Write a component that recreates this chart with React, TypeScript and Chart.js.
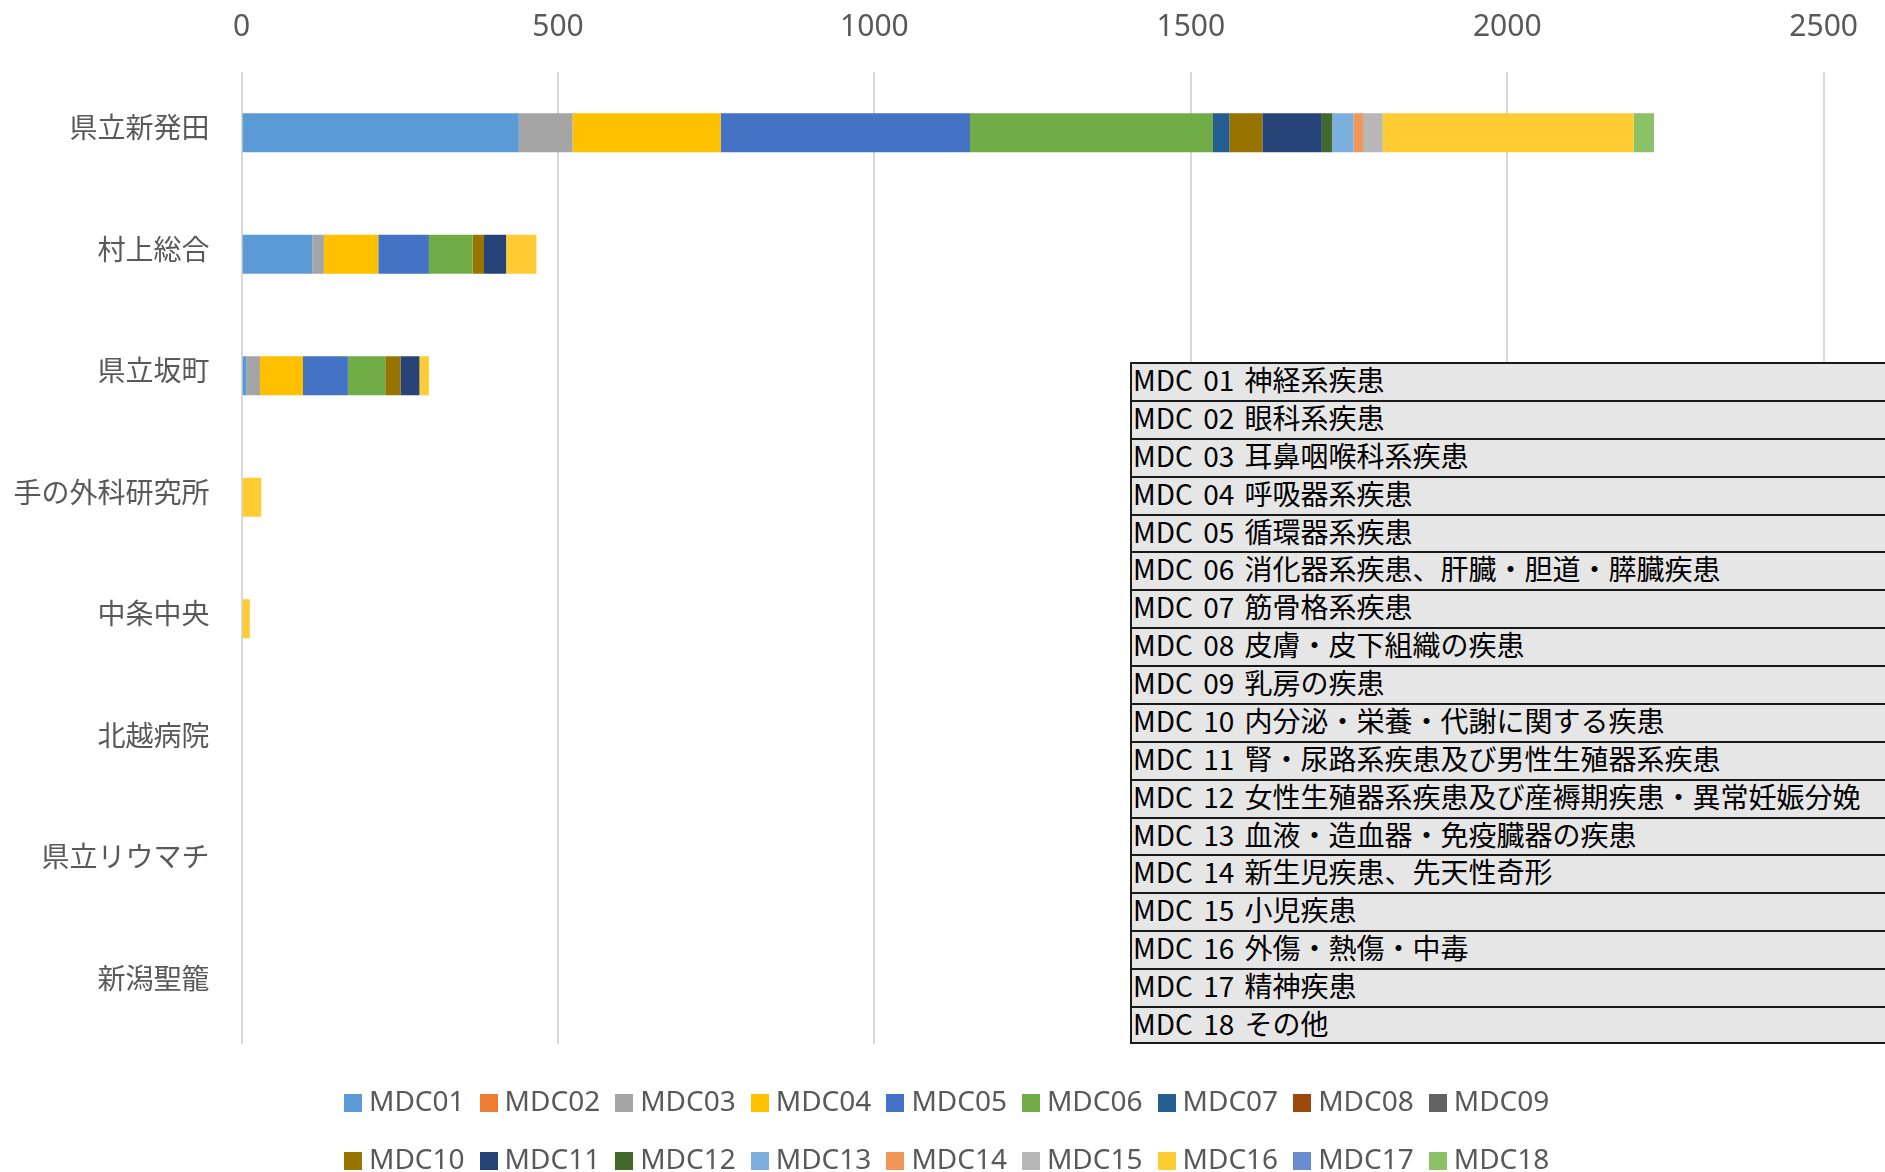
import React, { useEffect, useRef } from "react";
import { Chart, registerables } from "chart.js";

Chart.register(...registerables);

const categories = ["県立新発田", "村上総合", "県立坂町", "手の外科研究所", "中条中央", "北越病院", "県立リウマチ", "新潟聖籠"];

const seriesNames = ["MDC01", "MDC02", "MDC03", "MDC04", "MDC05", "MDC06", "MDC07", "MDC08", "MDC09", "MDC10", "MDC11", "MDC12", "MDC13", "MDC14", "MDC15", "MDC16", "MDC17", "MDC18"];

const seriesColors = ["#5B9BD5", "#ED7D31", "#A5A5A5", "#FFC000", "#4472C4", "#70AD47", "#255E91", "#9E480E", "#636363", "#997300", "#264478", "#43682B", "#7CAFDD", "#F1975A", "#B7B7B7", "#FFCD33", "#698ED0", "#8CC168"];

const mdc01 = [438, 112, 8, 0, 0, 0, 0, 0];
const mdc02 = [0, 0, 0, 0, 0, 0, 0, 0];
const mdc03 = [85, 18, 21, 0, 0, 0, 0, 0];
const mdc04 = [234, 86, 68, 0, 0, 0, 0, 0];
const mdc05 = [394, 80, 71, 0, 0, 0, 0, 0];
const mdc06 = [384, 69, 59, 0, 0, 0, 0, 0];
const mdc07 = [26, 0, 0, 0, 0, 0, 0, 0];
const mdc08 = [0, 0, 0, 0, 0, 0, 0, 0];
const mdc09 = [0, 0, 0, 0, 0, 0, 0, 0];
const mdc10 = [52, 18, 24, 0, 0, 0, 0, 0];
const mdc11 = [94, 35, 30, 0, 0, 0, 0, 0];
const mdc12 = [16, 0, 0, 0, 0, 0, 0, 0];
const mdc13 = [34, 0, 0, 0, 0, 0, 0, 0];
const mdc14 = [15, 0, 0, 0, 0, 0, 0, 0];
const mdc15 = [31, 0, 0, 0, 0, 0, 0, 0];
const mdc16 = [397, 48, 15, 31, 13, 0, 0, 0];
const mdc17 = [0, 0, 0, 0, 0, 0, 0, 0];
const mdc18 = [32, 0, 0, 0, 0, 0, 0, 0];

const seriesValues = [mdc01, mdc02, mdc03, mdc04, mdc05, mdc06, mdc07, mdc08, mdc09, mdc10, mdc11, mdc12, mdc13, mdc14, mdc15, mdc16, mdc17, mdc18];

const xTicks = [0, 500, 1000, 1500, 2000, 2500];

const mdcDescriptions = [
  "MDC 01 神経系疾患",
  "MDC 02 眼科系疾患",
  "MDC 03 耳鼻咽喉科系疾患",
  "MDC 04 呼吸器系疾患",
  "MDC 05 循環器系疾患",
  "MDC 06 消化器系疾患、肝臓・胆道・膵臓疾患",
  "MDC 07 筋骨格系疾患",
  "MDC 08 皮膚・皮下組織の疾患",
  "MDC 09 乳房の疾患",
  "MDC 10 内分泌・栄養・代謝に関する疾患",
  "MDC 11 腎・尿路系疾患及び男性生殖器系疾患",
  "MDC 12 女性生殖器系疾患及び産褥期疾患・異常妊娠分娩",
  "MDC 13 血液・造血器・免疫臓器の疾患",
  "MDC 14 新生児疾患、先天性奇形",
  "MDC 15 小児疾患",
  "MDC 16 外傷・熱傷・中毒",
  "MDC 17 精神疾患",
  "MDC 18 その他",
];

const W = 1885;
const H = 1172;
const AREA_LEFT = 241.6;
const AREA_TOP = 72;
const AREA_BOTTOM = 1044;
const RIGHT_PAD = 53;

export default function App() {
  const canvasRef = useRef<HTMLCanvasElement | null>(null);

  useEffect(() => {
    const canvas = canvasRef.current;
    if (!canvas) return;
    const chart = new Chart(canvas, {
      type: "bar",
      data: {
        labels: categories,
        datasets: seriesNames.map((name, i) => ({
          label: name,
          data: seriesValues[i],
          backgroundColor: seriesColors[i],
          borderWidth: 0,
          barPercentage: 0.32,
          categoryPercentage: 1,
        })),
      },
      options: {
        indexAxis: "y",
        responsive: false,
        animation: false,
        devicePixelRatio: 1,
        layout: { padding: { left: 0, top: 0, right: RIGHT_PAD, bottom: H - AREA_BOTTOM } },
        plugins: { legend: { display: false }, tooltip: { enabled: false } },
        scales: {
          x: {
            position: "top",
            stacked: true,
            min: 0,
            max: 2500,
            afterBuildTicks: (scale: any) => {
              scale.ticks = xTicks.map((v) => ({ value: v }));
            },
            afterFit: (scale: any) => {
              scale.height = AREA_TOP;
            },
            grid: { color: "#d9d9d9", lineWidth: 2, drawTicks: false },
            border: { display: false },
            ticks: {
              padding: 27,
              color: "#595959",
              callback: (v: any) => String(v),
              font: { family: "'Noto Sans', 'Noto Sans CJK JP', sans-serif", size: 30 },
            },
          },
          y: {
            stacked: true,
            afterFit: (scale: any) => {
              scale.width = AREA_LEFT;
            },
            grid: { display: false, drawTicks: false },
            border: { display: false },
            ticks: {
              padding: 32,
              labelOffset: -5,
              color: "#595959",
              font: { family: "'Noto Sans CJK JP', sans-serif", size: 28 },
            },
          },
        },
      },
    } as any);
    return () => chart.destroy();
  }, []);

  const rowH = (AREA_BOTTOM - 362) / mdcDescriptions.length;

  return (
    <div style={{ position: "fixed", left: 0, top: 0, width: W, height: H, overflow: "hidden", background: "#fff" }}>
      <canvas ref={canvasRef} width={W} height={H} style={{ display: "block", position: "absolute", left: 0, top: 0 }} />
      <div style={{ position: "absolute", left: 1130, top: 362, width: 800 }}>
        {mdcDescriptions.map((d, i) => (
          <div
            key={i}
            style={{
              boxSizing: "border-box",
              height: rowH,
              background: "#e7e6e6",
              borderTop: "2px solid #1a1a1a",
              borderLeft: "2px solid #1a1a1a",
              borderBottom: i === mdcDescriptions.length - 1 ? "2px solid #1a1a1a" : "none",
              fontFamily: "'Noto Sans CJK JP', sans-serif",
              fontSize: 28,
              lineHeight: `${rowH - 6}px`,
              color: "#000",
              paddingLeft: 1,
              wordSpacing: 4,
              whiteSpace: "nowrap",
              overflow: "hidden",
            }}
          >
            {d}
          </div>
        ))}
      </div>
      <div style={{ position: "absolute", left: 344, top: 1071, width: 1225, display: "flex", flexWrap: "wrap" }}>
        {seriesNames.map((n, i) => (
          <div key={n} style={{ width: 135.6, height: 58, display: "flex", alignItems: "center" }}>
            <div style={{ width: 18, height: 18, background: seriesColors[i], marginRight: 7, marginTop: 6, flex: "none" }} />
            <span style={{ fontFamily: "'Noto Sans', sans-serif", fontSize: 28, color: "#595959", lineHeight: 1 }}>{n}</span>
          </div>
        ))}
      </div>
    </div>
  );
}
